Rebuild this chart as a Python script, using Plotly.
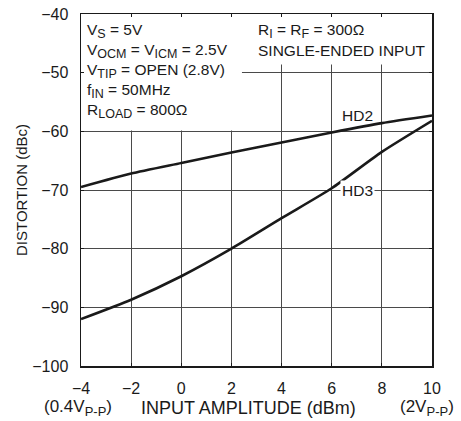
import plotly.graph_objects as go

amplitude_dbm = [-4, -2, 0, 2, 4, 6, 8, 10]
hd2_dbc = [-69.5, -67.2, -65.4, -63.6, -61.9, -60.2, -58.6, -57.3]
hd3_dbc = [-92.0, -88.7, -84.7, -80.0, -74.8, -69.7, -63.5, -58.2]
x_ticks = [-4, -2, 0, 2, 4, 6, 8, 10]
x_tick_text = ["\u22124", "\u22122", "0", "2", "4", "6", "8", "10"]
y_ticks = [-100, -90, -80, -70, -60, -50, -40]
y_tick_text = ["\u2212100", "\u221290", "\u221280", "\u221270", "\u221260", "\u221250", "\u221240"]

FONT = "Liberation Sans, Arial, sans-serif"
INK = "#1a1a1a"
fs_box = 15.5
fs_tick = 16

def sub(t, size=12.5):
    return '<sub><span style="font-size:%spx">%s</span></sub>' % (size, t)

fig = go.Figure()
for ys in (hd2_dbc, hd3_dbc):
    fig.add_trace(go.Scatter(x=amplitude_dbm, y=ys, mode="lines",
                             line=dict(color=INK, width=2.6, shape="spline", smoothing=0.6),
                             showlegend=False, hoverinfo="skip"))

# white boxes hiding grid behind the text blocks
fig.add_shape(type="rect", xref="x", yref="y", x0=-3.97, x1=2.42, y0=-59.85, y1=-40.1,
              fillcolor="white", line=dict(width=0), layer="between")
fig.add_shape(type="rect", xref="x", yref="y", x0=2.42, x1=9.97, y0=-48.6, y1=-40.1,
              fillcolor="white", line=dict(width=0), layer="between")

def ypix(py):
    return -40 - (py - 14.3) / 58.67 * 10

def xpix(px):
    return -4 + (px - 81) / 25.07

def xpaper(px):
    return (px - 81) / 351.0

left_lines = ["V" + sub("S") + " = 5V",
              "V" + sub("OCM") + " = V" + sub("ICM") + " = 2.5V",
              "V" + sub("TIP") + " = OPEN (2.8V)",
              "f" + sub("IN") + " = 50MHz",
              "R" + sub("LOAD") + " = 800\u03a9"]
for i, t in enumerate(left_lines):
    fig.add_annotation(x=xpix(85), y=ypix(31 + 20 * i), xref="x", yref="y", text=t,
                       showarrow=False, xanchor="left", yanchor="middle",
                       font=dict(family=FONT, size=fs_box, color=INK))
right_lines = ["R" + sub("I") + " = R" + sub("F") + " = 300\u03a9", "SINGLE-ENDED INPUT"]
for i, t in enumerate(right_lines):
    fig.add_annotation(x=xpix(256), y=ypix(31 + 20 * i), xref="x", yref="y", text=t,
                       showarrow=False, xanchor="left", yanchor="middle",
                       font=dict(family=FONT, size=fs_box, color=INK))

fig.add_annotation(x=xpix(357), y=ypix(116), xref="x", yref="y", text="HD2", showarrow=False,
                   font=dict(family=FONT, size=fs_box, color=INK))
fig.add_annotation(x=xpix(357), y=-70, xref="x", yref="y", text="HD3", showarrow=False,
                   bgcolor="white", borderpad=1,
                   font=dict(family=FONT, size=fs_box, color=INK))

# x-axis title and extra notes
yb = -0.119
fig.add_annotation(x=xpaper(42), y=yb, xref="paper", yref="paper",
                   text="(0.4V" + sub("P-P", 13) + ")", xanchor="left",
                   showarrow=False, yanchor="middle", font=dict(family=FONT, size=17, color=INK))
fig.add_annotation(x=xpaper(456), y=yb, xref="paper", yref="paper",
                   text="(2V" + sub("P-P", 13) + ")", xanchor="right",
                   showarrow=False, yanchor="middle", font=dict(family=FONT, size=17, color=INK))
fig.add_annotation(x=xpaper(248), y=yb, xref="paper", yref="paper", text="INPUT AMPLITUDE (dBm)",
                   showarrow=False, yanchor="middle", font=dict(family=FONT, size=18, color=INK))

axis_common = dict(showline=True, linecolor=INK, linewidth=1.5, mirror="ticks",
                   ticks="inside", ticklen=3, tickcolor=INK, tickwidth=1,
                   showgrid=True, gridcolor="#4a4a4a", gridwidth=1, zeroline=False,
                   ticklabeloverflow="allow", automargin=False,
                   tickfont=dict(family=FONT, size=fs_tick, color=INK))
fig.update_xaxes(range=[-4, 10], tickvals=x_ticks, ticktext=x_tick_text,
                 ticklabelstandoff=7, **axis_common)
fig.update_yaxes(range=[-100, -40], tickvals=y_ticks, ticktext=y_tick_text,
                 ticklabelstandoff=8,
                 title=dict(text="DISTORTION (dBc)", standoff=1,
                            font=dict(family=FONT, size=15, color=INK)),
                 **axis_common)

fig.update_layout(width=461, height=421, margin=dict(l=81, r=29, t=14, b=55, autoexpand=False),
                  plot_bgcolor="white", paper_bgcolor="white", hovermode=False,
                  font=dict(family=FONT, size=fs_tick, color=INK))
# remove the default page body margin so the figure fills the window exactly
fig.write_html("out.html", config={"displayModeBar": False, "staticPlot": True},
               post_script="document.body.style.margin='0';document.body.style.overflow='hidden';")
